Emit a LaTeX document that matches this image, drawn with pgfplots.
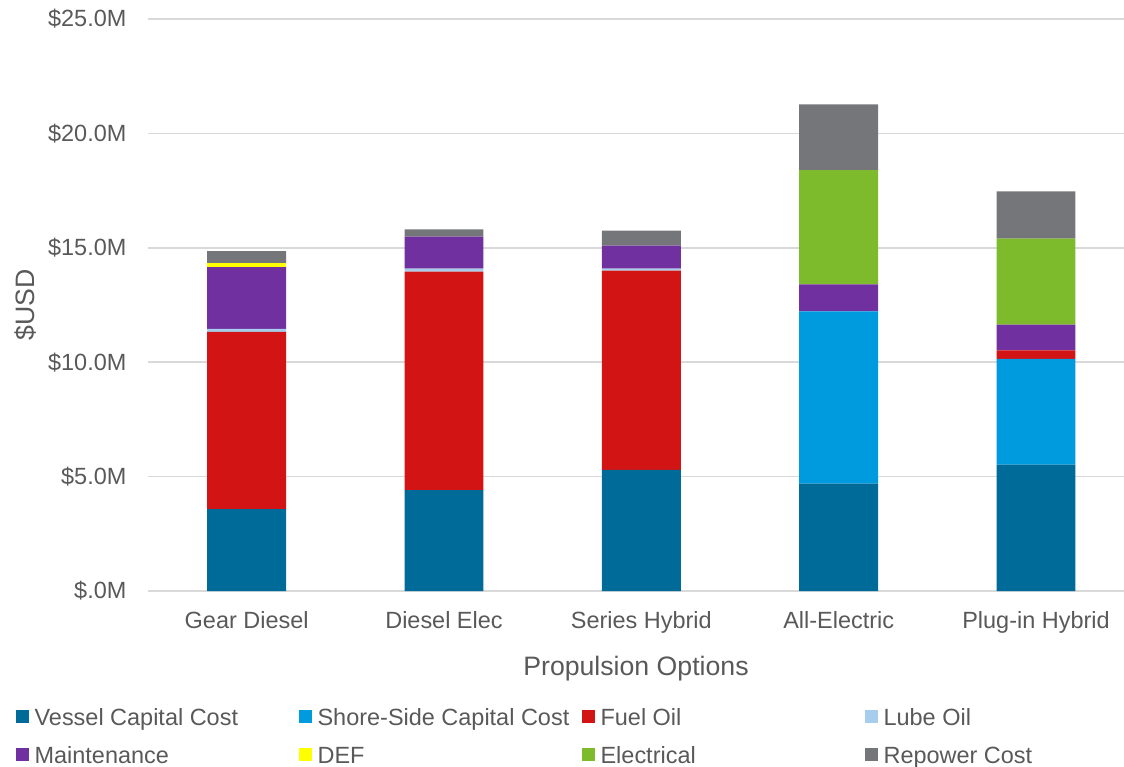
\documentclass[border=0pt]{standalone}
\usepackage{fontspec}
\setmainfont{Liberation Sans}
\usepackage{pgfplots}
\pgfplotsset{compat=1.18}

\definecolor{txtgray}{RGB}{89,89,89}
\definecolor{gridgray}{RGB}{217,217,217}
\definecolor{vessel}{RGB}{0,106,153}
\definecolor{shore}{RGB}{0,155,222}
\definecolor{fuel}{RGB}{211,20,20}
\definecolor{lube}{RGB}{166,206,236}
\definecolor{maint}{RGB}{112,48,160}
\definecolor{def}{RGB}{255,255,0}
\definecolor{elec}{RGB}{126,187,44}
\definecolor{repower}{RGB}{117,118,122}

\newcommand{\tickfont}{\fontsize{17.6}{21}\selectfont}
\newcommand{\labfont}{\fontsize{20}{24}\selectfont}
\newcommand{\legtext}[1]{\hspace{4pt}\makebox[198.5pt][l]{#1}}

\begin{document}
\begin{tikzpicture}
\begin{axis}[
  scale only axis, width=732pt, height=429pt,
  ybar stacked, bar width=0.4,
  xmin=-0.5, xmax=4.446, ymin=0, ymax=25,
  enlargelimits=false,
  axis line style={draw=none},
  major tick length=0pt,
  xtick={0,1,2,3,4},
  xticklabels={Gear Diesel, Diesel Elec, Series Hybrid, All-Electric, Plug-in Hybrid},
  ytick={0,5,10,15,20,25},
  yticklabels={\$.0M,\$5.0M,\$10.0M,\$15.0M,\$20.0M,\$25.0M},
  ymajorgrids, grid style={line width=1.1pt, color=gridgray},
  /pgf/number format/assume math mode=true,
  tick label style={font=\tickfont, text=txtgray, inner sep=0pt},
  xticklabel style={anchor=north, yshift=-15.5pt},
  yticklabel style={anchor=east, xshift=-16pt},
  xlabel={Propulsion Options}, ylabel={\$USD},
  xlabel style={font=\labfont, text=txtgray, at={([yshift=-58pt]rel axis cs:0.5,0)}, anchor=center},
  ylabel style={font=\labfont, text=txtgray, at={([xshift=-92pt]rel axis cs:0,0.5)}, anchor=center, rotate=0},
  legend columns=4,
  legend image code/.code={\fill[#1] (0pt,1.6pt) rectangle (9.75pt,11.35pt);},
  legend style={draw=none, fill=none, font=\tickfont, text=txtgray,
    at={([xshift=-102pt,yshift=-86pt]rel axis cs:0,0)}, anchor=north west,
    nodes={inner sep=0pt, anchor=base west}, column sep=0pt, row sep=14pt},
]
% Vessel capital cost
\addplot[fill=vessel, draw=none] coordinates {(0,3.58) (1,4.41) (2,5.29) (3,4.69) (4,5.52)};
\addlegendentry{\legtext{Vessel Capital Cost}}
% Shore-side capital cost
\addplot[fill=shore, draw=none] coordinates {(0,0) (1,0) (2,0) (3,7.53) (4,4.62)};
\addlegendentry{\legtext{Shore-Side Capital Cost}}
% Fuel oil
\addplot[fill=fuel, draw=none] coordinates {(0,7.74) (1,9.55) (2,8.71) (3,0) (4,0.38)};
\addlegendentry{\legtext{Fuel Oil}}
% Lube oil
\addplot[fill=lube, draw=none] coordinates {(0,0.14) (1,0.13) (2,0.09) (3,0) (4,0)};
\addlegendentry{\legtext{Lube Oil}}
% Maintenance
\addplot[fill=maint, draw=none] coordinates {(0,2.70) (1,1.40) (2,1.00) (3,1.18) (4,1.12)};
\addlegendentry{\legtext{Maintenance}}
% DEF
\addplot[fill=def, draw=none] coordinates {(0,0.18) (1,0) (2,0) (3,0) (4,0)};
\addlegendentry{\legtext{DEF}}
% Electrical
\addplot[fill=elec, draw=none] coordinates {(0,0) (1,0) (2,0) (3,4.99) (4,3.76)};
\addlegendentry{\legtext{Electrical}}
% Repower cost
\addplot[fill=repower, draw=none] coordinates {(0,0.52) (1,0.32) (2,0.66) (3,2.88) (4,2.07)};
\addlegendentry{\legtext{Repower Cost}}

\coordinate (sw) at (rel axis cs:0,0);
\coordinate (ne) at (rel axis cs:1,1);
\end{axis}
\pgfresetboundingbox
\path[use as bounding box] ([xshift=-111pt,yshift=-132pt]sw) rectangle ([yshift=14.25pt]ne);
\end{tikzpicture}
\end{document}
